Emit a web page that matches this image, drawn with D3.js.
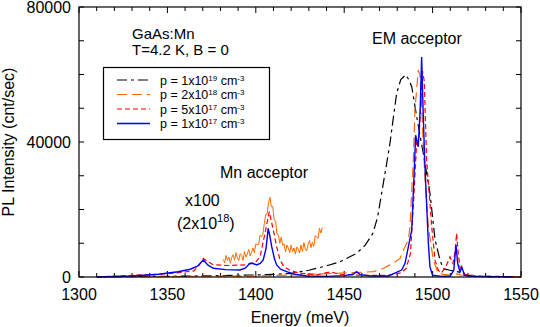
<!DOCTYPE html>
<html>
  <head>
    <meta charset="UTF-8">
    <title>GaAs:Mn PL</title>
    <script type="text/javascript" src="https://cdn.jsdelivr.net/npm/d3@7"></script>
    <style>
      body { margin: 0; background: #fff; }
      text { font-family: "Liberation Sans", Arial, sans-serif; fill: #000; }
    </style>
  </head>
  <body>
    <svg width="540" height="327"></svg>
    <script>
    // p = 1x10^19 (black dash)
    var eBlack = [1310,1350,1380,1400,1410,1420,1430,1440,1447.6,1457,1462,1466.3,1469,1471.2,1473.5,1475.9,1478,1479.7,1482,1484.8,1486.5,1488.2,1491,1494.7,1498.5,1501.4,1504.2,1506,1509.8,1514.5,1519.3,1525,1535,1550];
    var iBlack = [100,200,400,600,800,1100,2000,3300,4500,7000,9500,13000,18000,24900,32000,39700,48000,54500,58500,59900,58500,56400,47500,36700,24900,11000,5000,2500,2000,1500,600,200,100,50];
    // p = 2x10^18 (orange long dash)
    var eOrange = [1310,1350,1400,1420,1440,1450,1460,1466.5,1472,1475.9,1479,1481.6,1484.4,1486.3,1487.2,1489.1,1490,1491.9,1492.8,1493.7,1494.7,1496,1497.6,1500.4,1503.2,1506,1510,1514,1516,1520,1530,1550];
    var iOrange = [0,100,300,600,1000,1200,1400,1600,2500,3600,4500,5500,9000,11000,14900,34700,49500,61300,60000,52000,39700,26000,14900,5000,1100,800,600,900,600,300,100,50];
    // p = 2x10^18 multiplied by 100, Mn acceptor region
    var eOrangeX100 = [1381.6,1382.4,1383.2,1384.0,1384.8,1385.6,1386.4,1387.2,1388.0,1388.8,1389.6,1390.4,1391.2,1392.0,1392.8,1393.6,1394.4,1395.2,1396.0,1396.8,1397.6,1398.4,1399.2,1400.0,1400.8,1401.6,1402.4,1403.2,1404.0,1404.8,1405.6,1406.4,1407.2,1408.0,1408.8,1409.6,1410.4,1411.2,1412.0,1412.8,1413.6,1414.4,1415.2,1416.0,1416.8,1417.6,1418.4,1419.2,1420.0,1420.8,1421.6,1422.4,1423.2,1424.0,1424.8,1425.6,1426.4,1427.2,1428.0,1428.8,1429.6,1430.4,1431.2,1432.0,1432.8,1433.6,1434.4,1435.2,1436.0,1436.8,1437.6];
    var iOrangeX100 = [5200,4200,6400,4900,5900,4100,5800,6600,5000,7200,5600,4900,6900,6400,4900,7500,5900,6800,8200,6300,7300,8600,7200,9800,9600,9600,12400,11900,12700,15800,18500,18700,22000,23600,20800,20900,16900,16600,12700,12400,10000,11800,9400,9800,7400,9500,8500,7200,9400,7500,8600,6800,8900,8300,7100,9500,7600,10200,8200,7700,9700,10800,8700,10300,9100,12200,12000,11400,14400,13000,14700];
    // p = 5x10^17 (red short dash)
    var eRed = [1310,1330,1345,1355,1365,1368,1370.3,1373,1376,1385,1394.9,1400,1402.4,1405.2,1407.6,1409.9,1411.8,1413.7,1416,1419.3,1425,1435,1442,1448,1460,1475,1482,1485,1487.5,1489.5,1491,1492.3,1493.2,1494.3,1495.3,1496.6,1498.5,1499.5,1501.4,1503.2,1505,1507.5,1509.8,1511.5,1512.8,1513.6,1514.5,1515.5,1518.3,1525,1550];
    var iRed = [0,500,800,1200,1800,3500,5500,4500,3600,3400,3600,4500,6000,12950,19350,13900,9000,5000,3000,2000,1100,700,1500,800,500,500,1200,2500,7000,25000,40000,41000,50000,61000,58000,34700,22000,14900,5000,2000,1200,3000,6000,4000,8000,12950,7000,3000,800,300,50];
    // p = 1x10^17 (blue solid)
    var eBlue = [1310,1330,1345,1356,1363,1367,1370.3,1373,1376,1383,1391,1394,1396.7,1398.5,1400.5,1402.5,1404.2,1405.8,1407,1408,1409,1410.5,1411.8,1414,1417.5,1422,1428.8,1440,1450,1455,1457,1459,1465,1475,1482.5,1484.4,1486.3,1488.2,1489.5,1490.4,1491.9,1493,1493.8,1494.6,1495.5,1496.6,1497.6,1498.5,1500,1505,1510,1512,1513.2,1514.2,1515.5,1516.5,1518,1522,1530,1545];
    var iBlue = [0,300,800,1570,2300,3200,5040,3500,2580,2200,2070,2600,4060,4000,3560,4000,5040,8500,14400,12000,9000,5500,3560,2300,1570,800,300,200,400,800,1570,700,300,300,2070,4060,9000,13900,30000,42000,38600,50000,65200,50000,35000,22000,10000,3000,500,200,300,2000,9500,4000,1500,3000,500,200,100,50];

    var xTicks = [1300,1350,1400,1450,1500,1550];
    var yTicks = [0,40000,80000];
    var legendExp = ["19","18","17","17"];
    var legendMant = ["1","2","5","1"];

    var marge = {top:7,bottom:50,left:79,right:19};
    var svg = d3.select("svg");
    var width = +svg.attr("width");
    var height = +svg.attr("height");
    var w = width-marge.left-marge.right;
    var h = height-marge.top-marge.bottom;
    var g = svg.append("g")
      .attr("transform","translate("+marge.left+","+marge.top+")");

    var xScale = d3.scaleLinear().domain([1300,1550]).range([0,w]);
    var yScale = d3.scaleLinear().domain([0,80000]).range([h,0]);

    //坐标刻度 (inward, mirrored)
    var xMinor = d3.range(1300,1551,10);
    var yMinor = d3.range(0,80001,10000);
    function tickLen(v){ return v%50===0 ? 6 : 4; }
    g.selectAll(".xt").data(xMinor).enter().append("line")
      .attr("x1",function(d){return xScale(d);}).attr("x2",function(d){return xScale(d);})
      .attr("y1",h).attr("y2",function(d){return h-tickLen(d);})
      .attr("stroke","#000");
    g.selectAll(".xtt").data(xMinor).enter().append("line")
      .attr("x1",function(d){return xScale(d);}).attr("x2",function(d){return xScale(d);})
      .attr("y1",0).attr("y2",function(d){return tickLen(d);})
      .attr("stroke","#000");
    g.selectAll(".yt").data(yMinor).enter().append("line")
      .attr("x1",0).attr("x2",5)
      .attr("y1",function(d){return yScale(d);}).attr("y2",function(d){return yScale(d);})
      .attr("stroke","#000");
    g.selectAll(".ytr").data(yMinor).enter().append("line")
      .attr("x1",w).attr("x2",w-5)
      .attr("y1",function(d){return yScale(d);}).attr("y2",function(d){return yScale(d);})
      .attr("stroke","#000");

    g.selectAll(".xl").data(xTicks).enter().append("text")
      .attr("x",function(d){return xScale(d);})
      .attr("y",h+22.5)
      .attr("text-anchor","middle")
      .style("font-size","16px")
      .text(function(d){return d;});
    g.selectAll(".yl").data(yTicks).enter().append("text")
      .attr("x",-8)
      .attr("y",function(d){return yScale(d)+5.5;})
      .attr("text-anchor","end")
      .style("font-size","16px")
      .text(function(d){return d;});

    svg.append("text")
      .attr("x",300).attr("y",323)
      .attr("text-anchor","middle")
      .style("font-size","16px")
      .text("Energy (meV)");
    svg.append("text")
      .attr("transform","translate(13.5,142) rotate(-90)")
      .attr("text-anchor","middle")
      .style("font-size","16px")
      .text("PL Intensity (cnt/sec)");

    //绘制曲线
    var line = d3.line()
      .x(function(d){return xScale(d[0]);})
      .y(function(d){return yScale(d[1]);});
    function pts(e,v){ return e.map(function(d,i){return [d,v[i]];}); }

    var series = [
      {data:pts(eBlack,iBlack), color:"#000000", dash:"10,4,3,4", sw:1.2},
      {data:pts(eOrange,iOrange), color:"#ff6a00", dash:"10,5", sw:1.2},
      {data:pts(eOrangeX100,iOrangeX100), color:"#ff6a00", dash:null, sw:1},
      {data:pts(eRed,iRed), color:"#ff0000", dash:"5,3", sw:1.2},
      {data:pts(eBlue,iBlue), color:"#0000ff", dash:null, sw:1.4}
    ];
    g.selectAll(".curve").data(series).enter().append("path")
      .attr("d",function(d){return line(d.data);})
      .attr("fill","none")
      .attr("stroke",function(d){return d.color;})
      .attr("stroke-width",function(d){return d.sw;})
      .attr("stroke-dasharray",function(d){return d.dash;});

    //边框
    g.append("rect").attr("width",w).attr("height",h)
      .attr("fill","none").attr("stroke","#000").attr("stroke-width",1.2);

    //注释
    function note(x,y,s,size){
      return svg.append("text").attr("x",x).attr("y",y).style("font-size",size).text(s);
    }
    note(132,39,"GaAs:Mn","15px");
    note(132,55,"T=4.2 K, B = 0","15px");
    note(372,44,"EM acceptor","16px");
    note(220,178,"Mn acceptor","16px");
    note(185,206,"x100","16px");
    var t2 = note(177,229,"(2x10","16px");
    t2.append("tspan").attr("dy",-7).style("font-size","11px").text("18");
    t2.append("tspan").attr("dy",7).text(")");

    //图例
    var lg = svg.append("g");
    lg.append("rect").attr("x",103.5).attr("y",67.5).attr("width",166).attr("height",72)
      .attr("fill","#fff").attr("stroke","#000").attr("stroke-width",1.2);
    var legendSeries = [series[0],series[1],series[3],series[4]];
    legendSeries.forEach(function(s,i){
      var y = 80+i*14.5;
      lg.append("line").attr("x1",117).attr("x2",150).attr("y1",y).attr("y2",y)
        .attr("stroke",s.color).attr("stroke-width",s.sw)
        .attr("stroke-dasharray",s.dash);
      var t = lg.append("text").attr("x",160).attr("y",y+4.5).style("font-size","12.5px")
        .text("p = "+legendMant[i]+"x10");
      t.append("tspan").attr("dy",-4).style("font-size","8px").text(legendExp[i]);
      t.append("tspan").attr("dy",4).text(" cm");
      t.append("tspan").attr("dy",-4).style("font-size","8px").text("-3");
    });
    </script>
  </body>
</html>
